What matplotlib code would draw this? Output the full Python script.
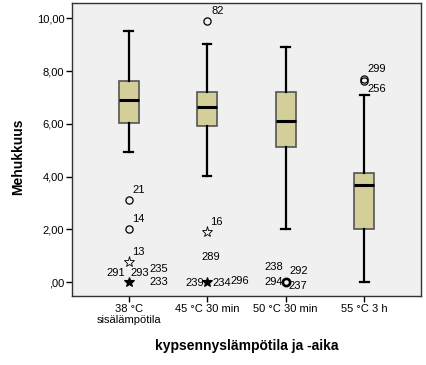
import matplotlib
matplotlib.use("Agg")
import matplotlib.pyplot as plt
from matplotlib.ticker import FuncFormatter

plt.rcParams['font.family'] = ['Liberation Sans', 'DejaVu Sans']

# Box plot summary
groups = ['38 °C\nsisälämpötila', '45 °C 30 min', '50 °C 30 min', '55 °C 3 h']
whislo = [4.92, 4.03, 2.01, 0.00]
q1 = [6.02, 5.92, 5.13, 2.01]
med = [6.92, 6.63, 6.12, 3.68]
q3 = [7.62, 7.22, 7.22, 4.12]
whishi = [9.53, 9.02, 8.90, 7.11]

# Outliers: group (1-based), value, kind (o = outlier, * = extreme), case ids
out_group = [1, 1, 1, 1, 2, 2, 2, 3, 4, 4]
out_value = [3.10, 2.02, 0.75, 0.00, 9.92, 1.91, 0.00, 0.00, 7.72, 7.61]
out_kind = ['o', 'o', '*', '*', 'o', '*', '*', 'o', 'o', 'o']
out_ids = [['21'], ['14'], ['13'], ['291', '293', '235', '233'],
           ['82'], ['16'], ['239', '234', '296', '289'],
           ['294', '237', '238', '292'], ['299'], ['256']]

# label placement (pixels from marker, ha) - same order as out_ids
label_pos = [[(4, 10, 'left')], [(4, 10, 'left')], [(4, 10, 'left')],
             [(-4, 9, 'right'), (2, 9, 'left'), (21, 13, 'left'), (21, 0, 'left')],
             [(4, 10, 'left')], [(3, 10, 'left')],
             [(-3, -1, 'right'), (5, -1, 'left'), (23, 1, 'left'), (4, 25, 'center')],
             [(-3, 0, 'right'), (3, -4, 'left'), (-3, 15, 'right'), (4, 11, 'left')],
             [(3, 10, 'left')], [(3, -8, 'left')]]

BOX_COLOR = '#D4CF99'

fig = plt.figure(figsize=(4.26, 3.65), dpi=100)
ax = fig.add_axes([0.169, 0.189, 0.819, 0.803])
ax.set_facecolor('#F0F0F0')

stats = []
for i in range(len(groups)):
    stats.append({'whislo': whislo[i], 'q1': q1[i], 'med': med[i],
                  'q3': q3[i], 'whishi': whishi[i], 'fliers': []})

positions = list(range(1, len(groups) + 1))
ax.bxp(stats, positions=positions, widths=0.255, capwidths=0.11,
       patch_artist=True, showfliers=False,
       boxprops=dict(facecolor=BOX_COLOR, edgecolor='#555555', linewidth=1.2),
       medianprops=dict(color='black', linewidth=2.2),
       whiskerprops=dict(color='black', linewidth=1.6),
       capprops=dict(color='black', linewidth=1.6))

for g, v, k, ids, pos in zip(out_group, out_value, out_kind, out_ids, label_pos):
    many = len(ids) > 1
    if k == 'o':
        ax.plot(g, v, marker='o', ms=5.2, mfc='none', mec='black',
                mew=1.9 if many else 0.9, ls='none', zorder=5)
    else:
        if many:
            ax.plot(g, v, marker='*', ms=7.5, mfc='black', mec='black',
                    mew=0.8, ls='none', zorder=5)
        else:
            ax.plot(g, v, marker='*', ms=8, mfc='none', mec='black',
                    mew=0.6, ls='none', zorder=5)
    for lab, (dx, dy, ha) in zip(ids, pos):
        ax.annotate(lab, (g, v), xytext=(dx, dy), textcoords='offset pixels',
                    ha=ha, va='center', fontsize=8, zorder=6)

ax.set_xlim(0.28, 4.72)
ax.set_ylim(-0.53, 10.59)
ax.set_xticks(positions)
ax.set_xticklabels(groups, fontsize=8, linespacing=1.1)
ax.set_yticks([0, 2, 4, 6, 8, 10])


def fi_fmt(v, _):
    s = f'{v:.2f}'.replace('.', ',')
    return s[1:] if s.startswith('0') else s


ax.yaxis.set_major_formatter(FuncFormatter(fi_fmt))
ax.tick_params(axis='y', labelsize=8, length=4, width=1, pad=1.5)
ax.tick_params(axis='x', labelsize=8, length=4, width=1, pad=2)
for sp in ax.spines.values():
    sp.set_color('#333333')
    sp.set_linewidth(1)

ax.set_ylabel('Mehukkuus', fontsize=10, fontweight='bold')
ax.yaxis.set_label_coords(-0.135, 0.474)
ax.set_xlabel('kypsennyslämpötila ja -aika', fontsize=10, fontweight='bold')
ax.xaxis.set_label_coords(0.5, -0.145)

fig.savefig('out.png', dpi=100)
